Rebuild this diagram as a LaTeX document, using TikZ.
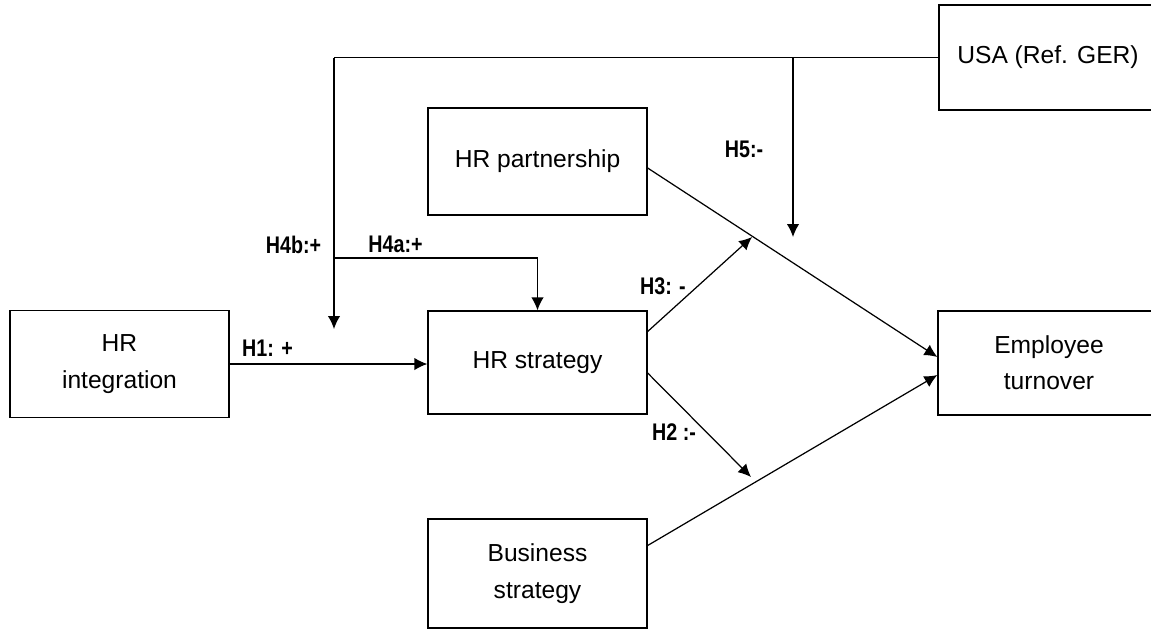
\documentclass[tikz,border=0pt]{standalone}
\usepackage{fontspec}
\setmainfont{Liberation Sans}
\newfontfamily\lblfont[FakeStretch=0.82]{Liberation Sans}
\usetikzlibrary{arrows.meta,calc}
\begin{document}
\begin{tikzpicture}[x=0.03cm,y=-0.03cm,
  box/.style={draw,line width=1.1pt,align=center,inner sep=0pt,font=\fontsize{21}{31}\selectfont},
  conn/.style={line width=1.05pt},
  arr/.style={conn,-{Latex[length=11pt,width=10.5pt]}},
  lbl/.style={font=\lblfont\bfseries\fontsize{20.5}{22}\selectfont,inner sep=0pt}]
\clip (0,0) rectangle (1151,630);
\fill[white] (0,0) rectangle (1151,630);
% boxes
\node[box,minimum width=6.57cm,minimum height=3.21cm] (hri) at (119.5,364) {HR\\integration};
\node[box,minimum width=6.57cm,minimum height=3.09cm] (hrs) at (537.5,362.5) {HR strategy};
\node[box,minimum width=6.57cm,minimum height=3.21cm] (hrp) at (537.5,161.5) {HR partnership};
\node[box,minimum width=6.57cm,minimum height=3.27cm] (bs) at (537.5,573.5) {Business\\strategy};
\node[box,minimum width=6.66cm,minimum height=3.12cm] (et) at (1049,363) {Employee\\turnover};
\node[box,minimum width=6.54cm,minimum height=3.15cm] (usa) at (1048,57.5) {USA (Ref. GER)};
% helper coordinates
\coordinate (tl) at (334,57.5);
\coordinate (h4bend) at (334,329);
\coordinate (h5top) at (793,57.5);
\coordinate (h5end) at (793,237);
\coordinate (h4aL) at (334,258);
\coordinate (h4aR) at (hrs.north |- h4aL);
\coordinate (h3end) at (752,237);
\coordinate (h2end) at (751,477);
% connectors
\draw[conn] (usa.west) -- (tl);
\draw[arr] (tl) -- (h4bend);
\draw[arr] (h5top) -- (h5end);
\draw[conn] (h4aL) -- (h4aR);
\draw[arr] (h4aR) -- (hrs.north);
\draw[arr] (hri.east) -- (hri.east -| hrs.west);
\draw[arr] ($(hrs.east)+(0,-31)$) -- (h3end);
\draw[arr] ($(hrs.east)+(0,10.5)$) -- (h2end);
\draw[arr] ($(hrp.east)+(0,6.5)$) -- ($(et.west)+(0,-6)$);
\draw[arr] ($(bs.east)+(0,-28)$) -- ($(et.west)+(0,12)$);
% labels
\node[lbl] (l5) at (744,149) {H5:-};
\node[lbl] (l4b) at (293.5,244.5) {H4b:+};
\node[lbl] (l4a) at (395.5,244.5) {H4a:+};
\node[lbl] (l1) at (267.5,348.5) {H1: +};
\node[lbl] (l3) at (663,286) {H3: -};
\node[lbl] (l2) at (674,432.5) {H2 :-};
\end{tikzpicture}
\end{document}
